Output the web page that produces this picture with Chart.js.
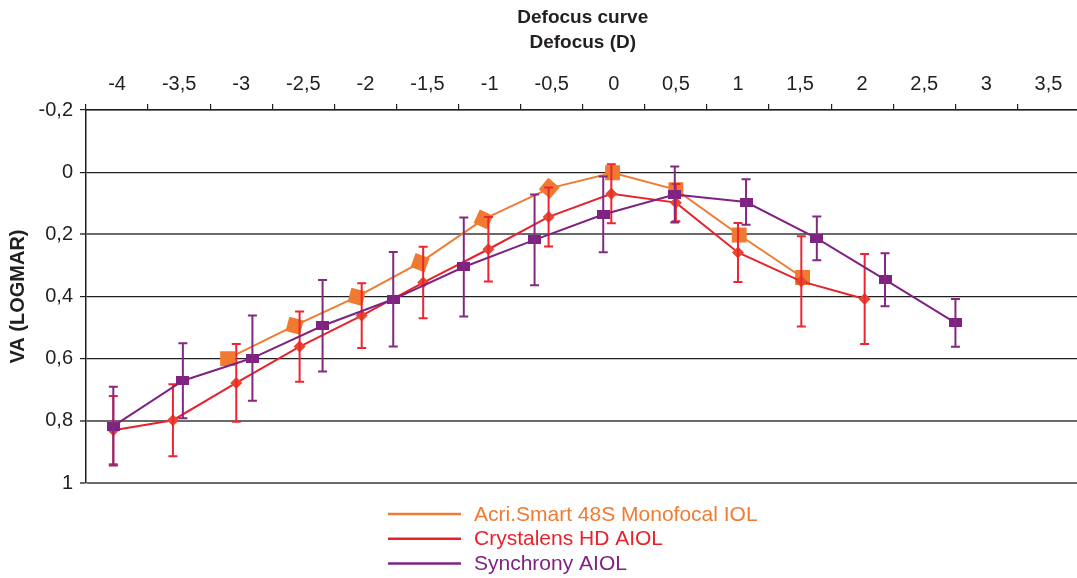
<!DOCTYPE html>
<html>
<head>
<meta charset="utf-8">
<script src="https://cdn.jsdelivr.net/npm/chart.js@4.4.0/dist/chart.umd.min.js"></script>
<style>
html, body { margin: 0; padding: 0; background: #ffffff; overflow: hidden; }
#wrap { position: relative; width: 1090px; height: 578px; overflow: hidden; }
</style>
</head>
<body>
<div id="wrap"><canvas id="c" width="1090" height="578"></canvas></div>
<script>
// ---------- data ----------
const chartTitle = ['Defocus curve', 'Defocus (D)'];
const yAxisTitle = 'VA (LOGMAR)';
const seriesNames = ['Acri.Smart 48S Monofocal IOL', 'Crystalens HD AIOL', 'Synchrony AIOL'];
const xTickValues = [-4, -3.5, -3, -2.5, -2, -1.5, -1, -0.5, 0, 0.5, 1, 1.5, 2, 2.5, 3, 3.5];
const yTickValues = [-0.2, 0, 0.2, 0.4, 0.6, 0.8, 1];

const acriDefocus = [-3.11, -2.57, -2.07, -1.56, -1.05, -0.52, -0.01, 0.50, 1.01, 1.52];
const acriVA      = [0.60, 0.494, 0.401, 0.291, 0.152, 0.052, 0.002, 0.056, 0.202, 0.339];

const crystalensDefocus = [-4.03, -3.55, -3.04, -2.53, -2.03, -1.535, -1.01, -0.525, -0.02, 0.50, 1.00, 1.51, 2.02];
const crystalensVA      = [0.83, 0.798, 0.678, 0.561, 0.4615, 0.355, 0.248, 0.144, 0.0695, 0.098, 0.2585, 0.3515, 0.408];
const crystalensErr     = [0.11, 0.116, 0.125, 0.113, 0.104, 0.115, 0.104, 0.095, 0.095, 0.06, 0.095, 0.145, 0.145];

const synchronyDefocus = [-4.03, -3.47, -2.91, -2.345, -1.776, -1.208, -0.638, -0.085, 0.491, 1.065, 1.635, 2.184, 2.751];
const synchronyVA      = [0.817, 0.671, 0.598, 0.494, 0.409, 0.305, 0.218, 0.136, 0.072, 0.096, 0.213, 0.346, 0.485];
const synchronyErr     = [0.127, 0.121, 0.137, 0.147, 0.152, 0.159, 0.146, 0.122, 0.09, 0.073, 0.07, 0.085, 0.077];

// ---------- helpers ----------
const toPoints = (xs, ys) => xs.map((x, i) => ({ x: x, y: ys[i] }));
const fmt = v => (Math.round(v * 10) / 10).toString().replace('.', ',');

const COL_ORANGE = '#F07B32';
const COL_RED = '#E8222B';
const COL_PURPLE = '#7E2381';

function rectMarker(w, h, color) {
  const cv = document.createElement('canvas');
  cv.width = w; cv.height = h;
  const g = cv.getContext('2d');
  g.fillStyle = color;
  g.fillRect(0, 0, w, h);
  return cv;
}
const purpleMarker = rectMarker(13, 9, COL_PURPLE);

// error bars drawn through the chart's scales
const errorBarPlugin = {
  id: 'errorBars',
  afterDatasetDraw(chart, args) {
    const ds = chart.data.datasets[args.index];
    if (!ds.errorBars) return;
    const xs = chart.scales.x, ys = chart.scales.y, ctx = chart.ctx;
    ctx.save();
    ctx.strokeStyle = ds.errorBarColor;
    ctx.lineWidth = 2;
    ctx.lineCap = 'butt';
    ds.data.forEach((p, i) => {
      const e = ds.errorBars[i];
      const px = xs.getPixelForValue(p.x);
      const top = ys.getPixelForValue(p.y - e);
      const bot = ys.getPixelForValue(p.y + e);
      ctx.beginPath();
      ctx.moveTo(px, top); ctx.lineTo(px, bot);
      ctx.moveTo(px - 4.5, top); ctx.lineTo(px + 4.5, top);
      ctx.moveTo(px - 4.5, bot); ctx.lineTo(px + 4.5, bot);
      ctx.stroke();
    });
    ctx.restore();
  }
};

// vertical legend below the plot
const stackedLegendPlugin = {
  id: 'stackedLegend',
  afterDraw(chart) {
    const ctx = chart.ctx, area = chart.chartArea;
    ctx.save();
    ctx.font = '21px "Liberation Sans", Arial, sans-serif';
    ctx.textBaseline = 'middle';
    ctx.textAlign = 'left';
    const order = [2, 1, 0]; // dataset indices in legend order (orange, red, purple)
    order.forEach((di, row) => {
      const ds = chart.data.datasets[di];
      const y = area.bottom + 31 + row * 24.7;
      const x0 = area.left + 302;
      ctx.strokeStyle = ds.borderColor;
      ctx.lineWidth = 2.5;
      ctx.beginPath();
      ctx.moveTo(x0, y); ctx.lineTo(x0 + 73, y);
      ctx.stroke();
      ctx.fillStyle = ds.borderColor;
      ctx.fillText(ds.label, x0 + 86, y + 1);
    });
    ctx.restore();
  }
};

Chart.defaults.font.family = "'Liberation Sans', Arial, sans-serif";
Chart.defaults.color = '#231F20';

const gridColor = c => {
  const v = c.tick ? Math.round(c.tick.value * 10) / 10 : 0;
  return (v === 0.2 || v === 0.8 || v === 1) ? '#6a6a6a' : '#1f1f1f';
};
const gridWidth = c => {
  const v = c.tick ? Math.round(c.tick.value * 10) / 10 : 0;
  return (v === 0.2 || v === 0.8 || v === 1) ? 2 : 1.2;
};

new Chart(document.getElementById('c'), {
  type: 'scatter',
  data: {
    datasets: [
      {
        label: seriesNames[2],
        data: toPoints(synchronyDefocus, synchronyVA),
        showLine: true,
        borderColor: COL_PURPLE,
        borderWidth: 2,
        pointStyle: purpleMarker,
        pointRadius: 7,
        pointBorderWidth: 0,
        errorBars: synchronyErr,
        errorBarColor: '#83297F',
        order: 0
      },
      {
        label: seriesNames[1],
        data: toPoints(crystalensDefocus, crystalensVA),
        showLine: true,
        borderColor: COL_RED,
        borderWidth: 2,
        pointStyle: 'rectRot',
        pointRadius: 6,
        pointBackgroundColor: '#E9472D',
        pointBorderWidth: 0,
        errorBars: crystalensErr,
        errorBarColor: '#EE2530',
        order: 1
      },
      {
        label: seriesNames[0],
        data: toPoints(acriDefocus, acriVA),
        showLine: true,
        borderColor: COL_ORANGE,
        borderWidth: 2,
        pointStyle: 'rect',
        pointRadius: 10.5,
        pointRotation: [0, 15, 15, 20, 25, 40, 0, 0, 0, 0],
        pointBackgroundColor: '#F07A30',
        pointBorderWidth: 0,
        order: 2
      }
    ]
  },
  options: {
    responsive: false,
    animation: false,
    devicePixelRatio: 1,
    layout: { padding: { left: 0, right: 7, top: 0, bottom: 95 } },
    plugins: {
      legend: { display: false },
      tooltip: { enabled: false },
      title: {
        display: true,
        text: chartTitle,
        fullSize: false,
        color: '#231F20',
        font: { size: 19, weight: 'bold', lineHeight: 25 / 19 },
        padding: { top: 5, bottom: 0 }
      }
    },
    scales: {
      x: {
        type: 'linear',
        position: 'top',
        min: -4.25,
        max: 3.75,
        afterBuildTicks: s => { s.ticks = xTickValues.map(v => ({ value: v })); },
        afterFit: s => { s.height = 55; },
        ticks: { font: { size: 20 }, color: '#231F20', padding: 8, autoSkip: false, maxRotation: 0, callback: v => fmt(v) },
        grid: { drawOnChartArea: false, drawTicks: true, tickLength: 6, offset: true, color: '#1f1f1f', lineWidth: 1.2 },
        border: { display: true, color: '#1f1f1f', width: 1.5 }
      },
      y: {
        type: 'linear',
        position: 'left',
        reverse: true,
        min: -0.2,
        max: 1,
        afterBuildTicks: s => { s.ticks = yTickValues.map(v => ({ value: v })); },
        afterFit: s => { s.width = 86; },
        ticks: { font: { size: 20 }, color: '#231F20', padding: 7, callback: v => fmt(v) },
        grid: { color: gridColor, lineWidth: gridWidth, drawTicks: true, tickLength: 6 },
        border: { display: true, color: '#1f1f1f', width: 1.5 },
        title: {
          display: true,
          text: yAxisTitle,
          color: '#231F20',
          font: { size: 20, weight: 'bold' },
          padding: { top: 6, bottom: 0 }
        }
      }
    }
  },
  plugins: [errorBarPlugin, stackedLegendPlugin]
});
</script>
</body>
</html>
